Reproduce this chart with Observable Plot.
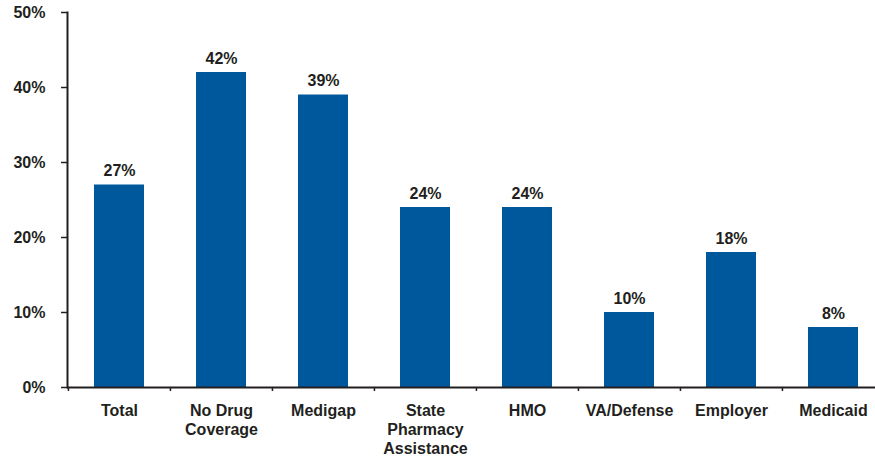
<!DOCTYPE html>
<html>
<head>
<meta charset="utf-8">
<style>
  html, body { margin: 0; padding: 0; background: #fff; }
  #chart svg { display: block; overflow: visible; }
</style>
<script src="https://cdn.jsdelivr.net/npm/d3@7"></script>
<script src="https://cdn.jsdelivr.net/npm/@observablehq/plot@0.6"></script>
</head>
<body>
<div id="chart"></div>
<script>
const categories = ["Total", "No Drug\nCoverage", "Medigap", "State\nPharmacy\nAssistance", "HMO", "VA/Defense", "Employer", "Medicaid"];
const values = [27, 42, 39, 24, 24, 10, 18, 8];
const yTicks = [0, 10, 20, 30, 40, 50];

const data = categories.map((c, i) => ({category: c, value: values[i]}));

const ink = "#231f20";
const barColor = "#00589c";
const font = "'Liberation Sans', Arial, Helvetica, sans-serif";

const W = 875, H = 457;
const x0 = 67, x1 = 884;
const step = (x1 - x0) / categories.length;

const chart = Plot.plot({
  width: W,
  height: H,
  marginLeft: 67,
  marginRight: 0,
  marginTop: 12,
  marginBottom: 70,
  style: {fontFamily: font, color: ink, background: "#fff", overflow: "visible"},
  x: {domain: categories, range: [x0, x1], paddingInner: 0.51, paddingOuter: 0.255, align: 0.5},
  y: {domain: [0, 50], range: [387, 12]},
  marks: [
    Plot.barY(data, {x: "category", y: "value", fill: barColor}),
    Plot.text(data, {
      x: "category", y: "value", text: d => d.value + "%",
      lineAnchor: "bottom", dy: -9,
      fontSize: 16, fontWeight: "bold", fill: ink
    }),
    Plot.frame({anchor: "left", stroke: ink, strokeWidth: 2}),
    Plot.ruleY([0], {stroke: ink, strokeWidth: 2.2}),
    Plot.ruleX(categories, {x: d => d, y1: 0, y2: 0, dx: -step / 2, insetBottom: -4, stroke: ink, strokeWidth: 1.5}),
    Plot.axisY({
      ticks: yTicks, tickSize: 6, tickPadding: 16,
      tickFormat: d => d + "%",
      fontSize: 16, fontWeight: "bold", stroke: ink, strokeWidth: 1.5, fill: ink, label: null
    }),
    Plot.axisX({
      tickSize: 0, tickPadding: 15,
      fontSize: 16, fontWeight: "bold", lineHeight: 1.19, fill: ink, label: null
    })
  ]
});

document.getElementById("chart").appendChild(chart);
</script>
</body>
</html>
